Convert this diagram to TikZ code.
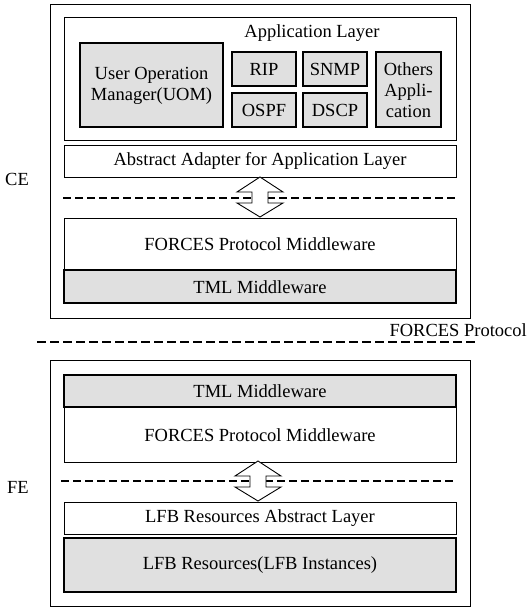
\documentclass[tikz,border=0pt]{standalone}
\usepackage{fontspec}
\setmainfont{Liberation Serif}
\usepackage{tikz}
\usetikzlibrary{positioning}
\definecolor{stipple}{HTML}{E0E0E0}

\begin{document}
\begin{tikzpicture}[x=1pt,y=-1pt,
  lbl/.style={font=\fontsize{18.5}{21}\selectfont,align=center,inner sep=0pt},
  layer/.style={draw,line width=0.9pt},
  grain/.style={draw,line width=1.3pt,fill=stipple},
  sep/.style={dash pattern=on 8pt off 4pt,line width=1.2pt}]
  \useasboundingbox (0,0) rectangle (529,607);

  % CE side
  \draw[layer] (50,4) rectangle (470,318);
  \draw[layer] (64,17) rectangle (456,140);
  \node[lbl] (applayer) at (312,33) {Application Layer};
  \filldraw[grain] (80,43) rectangle (223,127);
  \node[lbl] (uom) at (151.5,86) {User Operation\\Manager(UOM)};
  \filldraw[grain] (232,52) rectangle (296,86);
  \node[lbl] (rip) at (264,69) {RIP};
  \filldraw[grain] (303,52) rectangle (367,86);
  \node[lbl] (snmp) at (335,69) {SNMP};
  \filldraw[grain] (232,93) rectangle (296,127);
  \node[lbl] (ospf) at (264,110) {OSPF};
  \filldraw[grain] (303,93) rectangle (367,127);
  \node[lbl] (dscp) at (335,110) {DSCP};
  \filldraw[grain] (376,52) rectangle (441,127);
  \node[lbl] (others) at (408.5,90) {Others\\Appli-\\cation};

  \draw[layer] (64,145) rectangle (456,177);
  \node[lbl] (adapter) at (260,161) {Abstract Adapter for Application Layer};
  \draw[sep] (63,198) -- (458,198);
  \coordinate (cearr) at (260,197);

  \draw[layer] (64,218) rectangle (456,270);
  \node[lbl] (ceforces) at (260,244) {FORCES Protocol Middleware};
  \filldraw[grain] (64,270) rectangle (456,303);
  \node[lbl] (cetml) at (260,287) {TML Middleware};
  \node[lbl] (ce) at (17,179) {CE};

  % protocol boundary
  \draw[sep,line width=1.4pt,dash pattern=on 9pt off 4pt] (37,342) -- (477,342);
  \node[lbl,anchor=base east] (proto) at (527,336) {FORCES Protocol};

  % FE side
  \draw[layer] (50,360) rectangle (470,606);
  \filldraw[grain] (64,375) rectangle (456,407);
  \node[lbl] (fetml) at (260,391) {TML Middleware};
  \draw[layer] (64,407) rectangle (456,462);
  \node[lbl] (feforces) at (260,435) {FORCES Protocol Middleware};
  \draw[sep] (61,481) -- (453,481);
  \coordinate (fearr) at (258,481);
  \draw[layer] (64,502) rectangle (456,534);
  \node[lbl] (lfbabs) at (260,518) {LFB Resources Abstract Layer};
  \filldraw[grain] (64,538) rectangle (456,592);
  \node[lbl] (lfbres) at (260,565) {LFB Resources(LFB Instances)};
  \node[lbl] (fe) at (18,487) {FE};

  % double arrows across the dashed lines
  \foreach \c in {cearr,fearr}
    \draw[layer,fill=white,shift={(\c)}] (0,-20) -- (23,-5) -- (8,-5) -- (8,6)
      -- (23,6) -- (0,20) -- (-23,6) -- (-8,6) -- (-8,-5) -- (-23,-5) -- cycle;
\end{tikzpicture}
\end{document}
